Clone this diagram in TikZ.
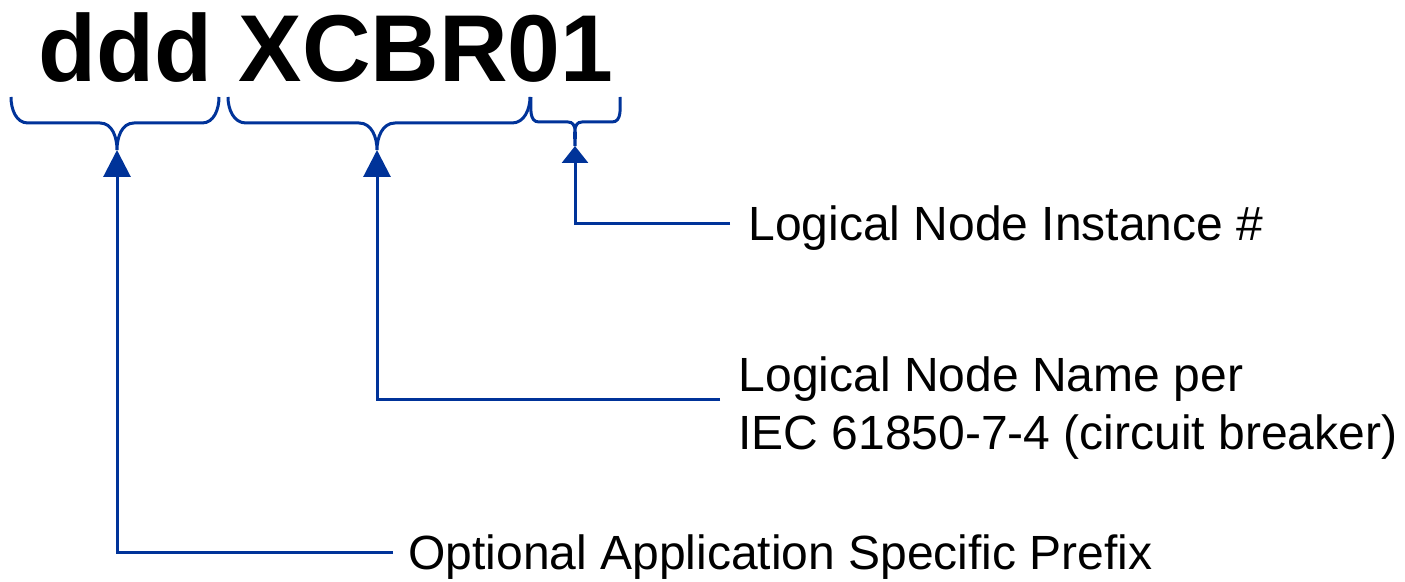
\documentclass[tikz,border=0pt]{standalone}
\usepackage{fontspec}
\setmainfont{Liberation Sans}
\usetikzlibrary{arrows.meta}
\definecolor{lnblue}{RGB}{0,51,153}
\begin{document}
\begin{tikzpicture}[x=0.5pt,y=-0.5pt,
  conn/.style={draw=lnblue,line width=1.5pt},
  brc/.style={draw=lnblue,line width=1.5pt},
  bigtip/.style={-{Triangle[width=13.5pt,length=13.5pt]}},
  smalltip/.style={-{Triangle[width=13pt,length=8.5pt]}},
  lbl/.style={anchor=base west,inner sep=0pt,font=\fontsize{24}{29}\selectfont},
  ttl/.style={anchor=base west,inner sep=0pt,font=\fontsize{47.5}{57}\selectfont\bfseries}]
\useasboundingbox (0,0) rectangle (1405,582);
% title
\node[ttl] (title) at (38,82) {ddd XCBR01};
% labels
\node[lbl] (inst) at (748,241) {Logical Node Instance \#};
\node[lbl] (name1) at (738.5,392) {Logical Node Name per};
\node[lbl] (name2) at (738,450) {IEC 61850-7-4 (circuit breaker)};
\node[lbl] (pre) at (408,570) {Optional Application Specific Prefix};
% brace tips and connector ends
\coordinate (tip1) at (117,150);
\coordinate (tip2) at (377,150);
\coordinate (tip3) at (575,146);
\coordinate (e1) at (393,553);
\coordinate (e2) at (720,400);
\coordinate (e3) at (730,224);
% braces
\draw[brc] (11,97) to[out=-90,in=180] (28,123) -- (100,123) to[out=0,in=90] (tip1)
  to[out=90,in=180] (134,123) -- (202,123) to[out=0,in=-90] (219,97);
\draw[brc] (228,97) to[out=-90,in=180] (246,123) -- (359,123) to[out=0,in=90] (tip2)
  to[out=90,in=180] (395,123) -- (512,123) to[out=0,in=-90] (530,97);
\draw[brc] (531,97) to[out=-90,in=180] (539,122) -- (568,122) to[out=0,in=90] (tip3)
  to[out=90,in=180] (582,122) -- (612,122) to[out=0,in=-90] (620,97);
% connectors
\draw[conn,bigtip] (e1) -| (tip1);
\draw[conn,bigtip] (e2) -| (tip2);
\draw[conn,smalltip] (e3) -| (tip3);
\end{tikzpicture}
\end{document}
